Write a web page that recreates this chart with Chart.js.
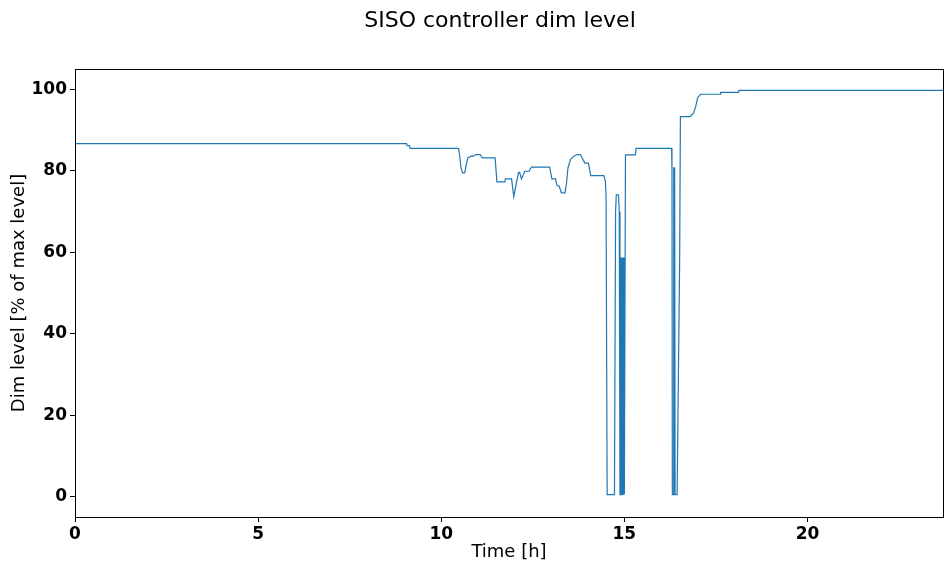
<!DOCTYPE html>
<html>
<head>
<meta charset="utf-8">
<script src="https://cdn.jsdelivr.net/npm/chart.js@4.4.0/dist/chart.umd.min.js"></script>
<style>
  html, body { margin: 0; padding: 0; background: #fff; }
  #wrap { width: 944px; height: 563px; position: relative; }
</style>
</head>
<body>
<div id="wrap"><canvas id="dim-chart"></canvas></div>
<script>
// Dim level trace (hours, % of max level)
const timeH = [
  0, 9.05, 9.07, 9.13, 9.15, 10.47, 10.50, 10.54, 10.58, 10.64,
  10.69, 10.73, 10.82, 10.88, 10.94, 11.06, 11.12, 11.47, 11.52, 11.74,
  11.75, 11.92, 11.98, 12.11, 12.14, 12.19, 12.28, 12.40, 12.46, 12.96,
  13.02, 13.12, 13.16, 13.22, 13.28, 13.38, 13.42, 13.46, 13.53, 13.62,
  13.71, 13.80, 13.92, 14.02, 14.08, 14.44, 14.48, 14.50, 14.53, 14.73,
  14.76, 14.78, 14.84, 14.86, 14.88,
  14.90, 14.905, 14.91, 14.92, 14.925, 14.935, 14.94, 14.95, 14.955, 14.965,
  14.97, 14.98, 14.985, 14.995, 15.00,
  15.03, 15.30, 15.32, 16.29, 16.30, 16.31,
  16.335, 16.34, 16.345, 16.35, 16.355, 16.36, 16.365, 16.37, 16.375, 16.38, 16.385,
  16.44, 16.51, 16.53, 16.80, 16.89, 16.95, 17.00, 17.08, 17.62, 17.63,
  18.12, 18.13, 23.7
];
const dimLevel = [
  86.7, 86.7, 86.2, 86.2, 85.5, 85.5, 84.0, 80.7, 79.5, 79.5,
  81.9, 83.2, 83.6, 83.6, 84.0, 84.0, 83.2, 83.2, 77.3, 77.3,
  78.0, 78.0, 73.7, 79.6, 79.6, 78.0, 79.9, 79.9, 80.9, 80.9,
  78.0, 78.0, 76.4, 76.2, 74.6, 74.6, 77.0, 80.7, 82.8, 83.6,
  84.0, 84.0, 81.9, 81.9, 78.8, 78.8, 77.5, 74.0, 0.5, 0.5,
  70.0, 74.1, 74.1, 70.0, 0.5,
  0.5, 58.7, 0.5, 58.7, 0.5, 58.7, 0.5, 58.7, 0.5, 58.7,
  0.5, 58.7, 0.5, 58.7, 0.5,
  83.9, 83.9, 85.5, 85.5, 80.0, 0.5,
  0.5, 80.9, 0.5, 80.9, 0.5, 80.9, 0.5, 80.9, 0.5, 80.9, 0.5,
  0.5, 58.6, 93.3, 93.3, 94.2, 95.9, 97.9, 98.8, 98.8, 99.25,
  99.25, 99.75, 99.75
];
const xTicks = [0, 5, 10, 15, 20];
const yTicks = [0, 20, 40, 60, 80, 100];

const FONT = '"DejaVu Sans", "Liberation Sans", sans-serif';

// matplotlib-like frame + suptitle
const framePlugin = {
  id: 'frame',
  afterDraw(chart) {
    const { ctx, chartArea: a } = chart;
    ctx.save();
    ctx.strokeStyle = '#000';
    ctx.lineWidth = 1;
    ctx.strokeRect(Math.round(a.left) + 0.5, Math.round(a.top) + 0.5,
                   Math.round(a.right - a.left), Math.round(a.bottom - a.top));
    ctx.fillStyle = '#000';
    ctx.font = '22px ' + FONT;
    ctx.textAlign = 'center';
    ctx.textBaseline = 'middle';
    ctx.fillText('SISO controller dim level', 500, 21);
    ctx.restore();
  }
};

const points = timeH.map((t, i) => ({ x: t, y: dimLevel[i] }));

new Chart(document.getElementById('dim-chart'), {
  type: 'line',
  data: {
    datasets: [{
      label: 'Dim level',
      data: points,
      borderColor: '#1f77b4',
      borderWidth: 1.2,
      pointRadius: 0,
      tension: 0,
      fill: false,
    }],
  },
  options: {
    responsive: true,
    maintainAspectRatio: false,
    animation: false,
    layout: { padding: { top: 69, right: 1, left: 0, bottom: 0 } },
    plugins: { legend: { display: false }, tooltip: { enabled: false } },
    scales: {
      x: {
        type: 'linear',
        min: 0, max: 23.7,
        afterBuildTicks: s => { s.ticks = xTicks.map(v => ({ value: v })); },
        afterFit: s => { s.height = 46; },
        grid: { display: true, drawOnChartArea: false, drawTicks: true, tickLength: 5, color: '#000' },
        border: { display: true, color: '#000' },
        ticks: { color: '#000', padding: 2, maxRotation: 0, font: { family: FONT, size: 17, weight: 'bold' } },
        title: { display: true, text: 'Time [h]', color: '#000', padding: { top: 0, bottom: 0 },
                 font: { family: FONT, size: 18 } },
      },
      y: {
        type: 'linear',
        min: -5, max: 105,
        afterBuildTicks: s => { s.ticks = yTicks.map(v => ({ value: v })); },
        afterFit: s => { s.width = 75; },
        grid: { display: true, drawOnChartArea: false, drawTicks: true, tickLength: 5, color: '#000' },
        border: { display: true, color: '#000' },
        ticks: { color: '#000', padding: 3, font: { family: FONT, size: 17, weight: 'bold' } },
        title: { display: true, text: 'Dim level [% of max level]', color: '#000', padding: { top: 9, bottom: 0 },
                 font: { family: FONT, size: 18 } },
      },
    },
  },
  plugins: [framePlugin],
});
</script>
</body>
</html>
